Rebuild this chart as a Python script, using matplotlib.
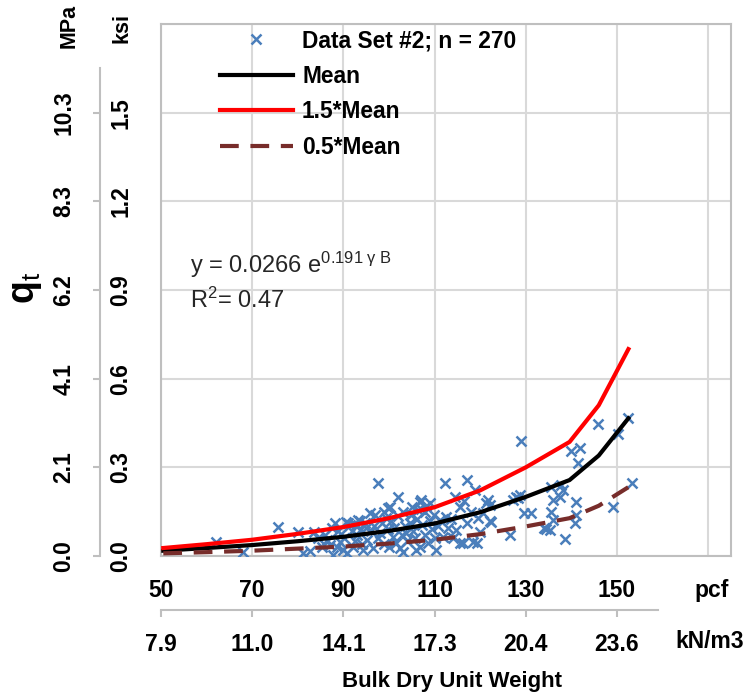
import matplotlib
matplotlib.use("Agg")
import matplotlib.pyplot as plt
from matplotlib import font_manager

# data (pcf, ksi)
gamma_pcf = [
    62.0, 68.0, 75.7, 80.1, 81.2, 82.6, 83.5, 85.9, 87.0, 87.7, 88.1, 89.2, 89.9,
    91.0, 91.4, 92.1, 93.2, 93.6, 94.3, 94.7, 95.1, 95.8, 96.5, 97.6, 98.0, 99.4,
    99.8, 100.2, 100.9, 102.0, 102.4, 103.1, 103.8, 104.5, 106.0, 106.4, 106.7,
    107.1, 107.8, 108.9, 110.4, 111.1, 111.8, 112.2, 112.6, 113.7, 114.8, 115.5,
    115.5, 116.2, 117.2, 118.4, 118.8, 119.2, 120.6, 121.3, 121.7, 122.1, 122.1,
    122.4, 126.5, 127.2, 127.9, 129.0, 129.7, 131.2, 134.1, 134.5, 135.2, 135.6,
    135.6, 136.0, 136.0, 137.4, 137.8, 138.1, 138.7, 140.0, 140.7, 141.1, 141.1,
    141.4, 141.9, 145.8, 149.2, 150.2, 152.4, 153.3,
    96.0, 96.8, 97.5, 98.5, 99.0, 99.8, 100.5, 101.0, 101.5, 102.0, 102.8, 103.5,
    104.0, 104.8, 105.2, 105.8, 106.2, 106.8, 107.3, 108.0, 108.5, 109.0, 109.5,
    110.0, 110.8, 97.0, 98.8, 100.0, 103.0, 105.0, 107.0, 108.2, 109.8,
    86.5, 88.5, 89.5, 90.2, 90.8, 91.8, 92.5, 93.0, 93.8, 94.0, 95.0, 84.5, 85.2,
    87.5, 88.8, 90.5, 92.8, 113.0, 114.0, 117.0, 119.5, 120.0, 118.0, 116.5,
    114.5, 128.3, 128.8,
]
qt_ksi = [
    0.048, 0.015, 0.099, 0.082, 0.009, 0.018, 0.080, 0.071, 0.037, 0.002, 0.110,
    0.048, 0.020, 0.110, 0.105, 0.031, 0.122, 0.118, 0.020, 0.110, 0.054, 0.144,
    0.026, 0.246, 0.077, 0.127, 0.161, 0.167, 0.065, 0.200, 0.026, 0.150, 0.077,
    0.110, 0.020, 0.156, 0.184, 0.190, 0.071, 0.178, 0.020, 0.122, 0.065, 0.246,
    0.133, 0.125, 0.088, 0.167, 0.043, 0.043, 0.256, 0.048, 0.223, 0.045, 0.144,
    0.180, 0.190, 0.172, 0.120, 0.116, 0.071, 0.190, 0.200, 0.390, 0.144, 0.144,
    0.094, 0.090, 0.088, 0.150, 0.234, 0.122, 0.190, 0.200, 0.240, 0.223, 0.056,
    0.356, 0.110, 0.184, 0.140, 0.313, 0.366, 0.446, 0.167, 0.414, 0.466, 0.248,
    0.085, 0.100, 0.060, 0.110, 0.040, 0.090, 0.120, 0.095, 0.045, 0.135, 0.070,
    0.100, 0.050, 0.140, 0.085, 0.060, 0.125, 0.030, 0.105, 0.150, 0.045, 0.120,
    0.090, 0.060, 0.100, 0.140, 0.150, 0.030, 0.015, 0.165, 0.160, 0.170, 0.140,
    0.055, 0.030, 0.075, 0.060, 0.010, 0.085, 0.050, 0.070, 0.090, 0.040, 0.095,
    0.060, 0.030, 0.095, 0.085, 0.115, 0.100, 0.095, 0.060, 0.110, 0.130, 0.080,
    0.150, 0.185, 0.200, 0.195, 0.205,
]

curve_pcf = [50.5, 60, 70, 80, 90, 100, 110, 120, 130, 139.6, 146, 152.5]
mean_ksi = [0.018, 0.027, 0.037, 0.050, 0.065, 0.085, 0.110, 0.148, 0.200, 0.257, 0.340, 0.466]
upper_ksi = [0.027, 0.040, 0.055, 0.075, 0.098, 0.128, 0.165, 0.222, 0.300, 0.386, 0.510, 0.700]
lower_ksi = [0.009, 0.013, 0.018, 0.025, 0.032, 0.042, 0.055, 0.074, 0.100, 0.128, 0.170, 0.233]

pcf_ticks = [50, 70, 90, 110, 130, 150]
kn_labels = ["7.9", "11.0", "14.1", "17.3", "20.4", "23.6"]
ksi_ticks = [0.0, 0.3, 0.6, 0.9, 1.2, 1.5]
ksi_labels = ["0.0", "0.3", "0.6", "0.9", "1.2", "1.5"]
mpa_labels = ["0.0", "2.1", "4.1", "6.2", "8.3", "10.3"]

names = {f.name for f in font_manager.fontManager.ttflist}
FONT = "Liberation Sans Narrow" if "Liberation Sans Narrow" in names else "Liberation Sans"
plt.rcParams["font.family"] = [FONT, "DejaVu Sans"]
plt.rcParams["mathtext.fontset"] = "custom"
plt.rcParams["mathtext.rm"] = FONT
plt.rcParams["mathtext.bf"] = FONT + ":bold"
plt.rcParams["mathtext.it"] = FONT + ":italic"

W, H = 749, 694
GRID = "#d9d9d9"
FRAME = "#bfbfbf"
TICK_FS = 16.5
LEG_FS = 16.4


def px(x, y):
    return x / W, 1 - y / H


fig = plt.figure(figsize=(W / 100, H / 100), dpi=100)
rect = [161 / W, (H - 556) / H, 570 / W, 532 / H]
ax = fig.add_axes(rect)

ax.plot(gamma_pcf, qt_ksi, linestyle="none", marker="x", color="#4a7ebb",
        markersize=7, markeredgewidth=1.8, label="Data Set #2; n = 270", zorder=3)
ax.plot(curve_pcf, mean_ksi, color="black", lw=3, label="Mean", zorder=4)
ax.plot(curve_pcf, upper_ksi, color="#ff0000", lw=3, label="1.5*Mean", zorder=4)
ax.plot(curve_pcf, lower_ksi, color="#772c2a", lw=3, linestyle=(0, (4.5, 2.8)),
        label="0.5*Mean", zorder=4)

ax.set_xlim(50, 175)
ax.set_ylim(0, 1.8)
ax.set_xticks([50, 70, 90, 110, 130, 150, 170])
ax.set_xticklabels([str(v) for v in pcf_ticks] + [""])
ax.set_yticks(ksi_ticks + [1.8])
ax.set_yticklabels(ksi_labels + [""], rotation=90)
ax.grid(True, color=GRID, lw=1.5, zorder=0)
ax.set_axisbelow(True)
for s in ax.spines.values():
    s.set_color(FRAME)
    s.set_linewidth(1.5)
ax.tick_params(axis="both", length=0, labelsize=TICK_FS)
ax.tick_params(axis="x", pad=24.5)
ax.tick_params(axis="y", pad=29)
for t in ax.get_xticklabels():
    t.set_fontweight("bold")
    t.set_va("center")
for t in ax.get_yticklabels():
    t.set_fontweight("bold")
    t.set_ha("center")
    t.set_va("center")

# MPa axis, further left
ax_mpa = fig.add_axes(rect, label="mpa")
ax_mpa.patch.set_visible(False)
ax_mpa.set_ylim(0, 1.8)
ax_mpa.xaxis.set_visible(False)
for k in ["top", "right", "bottom"]:
    ax_mpa.spines[k].set_visible(False)
ax_mpa.spines["left"].set_position(("outward", 61 * 0.72))
ax_mpa.spines["left"].set_bounds(0, 1.65)
ax_mpa.spines["left"].set_color(FRAME)
ax_mpa.spines["left"].set_linewidth(1.5)
ax_mpa.set_yticks(ksi_ticks)
ax_mpa.set_yticklabels(mpa_labels, rotation=90)
ax_mpa.tick_params(axis="y", direction="out", length=5, width=1.5, color=FRAME,
                   labelsize=TICK_FS, pad=21)
for t in ax_mpa.get_yticklabels():
    t.set_fontweight("bold")
    t.set_ha("center")
    t.set_va("center")

# kN/m3 axis, further down
ax_kn = fig.add_axes(rect, label="kn")
ax_kn.patch.set_visible(False)
ax_kn.set_xlim(50, 175)
ax_kn.yaxis.set_visible(False)
for k in ["top", "right", "left"]:
    ax_kn.spines[k].set_visible(False)
ax_kn.spines["bottom"].set_position(("outward", 54 * 0.72))
ax_kn.spines["bottom"].set_bounds(50, 159)
ax_kn.spines["bottom"].set_color(FRAME)
ax_kn.spines["bottom"].set_linewidth(1.5)
ax_kn.set_xticks(pcf_ticks)
ax_kn.set_xticklabels(kn_labels)
ax_kn.tick_params(axis="x", direction="out", length=5, width=1.5, color=FRAME,
                  labelsize=TICK_FS, pad=20)
for t in ax_kn.get_xticklabels():
    t.set_fontweight("bold")
    t.set_va("center")

leg = ax.legend(loc="upper left", bbox_to_anchor=((220 - 161) / 570, 0.99),
                frameon=False, borderpad=0, borderaxespad=0,
                handlelength=3.2, handletextpad=0.4, labelspacing=0.55,
                prop={"weight": "bold", "size": LEG_FS})

# unit labels and titles
fig.text(*px(712, 590), "pcf", ha="center", va="center", fontsize=TICK_FS, fontweight="bold")
fig.text(*px(710, 642), "kN/m3", ha="center", va="center", fontsize=TICK_FS, fontweight="bold")
fig.text(*px(69, 26), "MPa", rotation=90, ha="center", va="center", fontsize=15.5,
         fontweight="bold")
fig.text(*px(122, 28), "ksi", rotation=90, ha="center", va="center", fontsize=15.5,
         fontweight="bold")
fig.text(*px(452, 687), "Bulk Dry Unit Weight", ha="center", va="baseline",
         fontsize=16, fontweight="bold")
fig.text(*px(26, 288), r"$\mathbf{q}_{\mathrm{t}}$", rotation=90, ha="center", va="center",
         fontsize=27)

fig.text(*px(190, 273), r"y = 0.0266 e$^{\mathrm{0.191\ γ\ B}}$", ha="left",
         va="baseline", fontsize=17, color="#262626")
fig.text(*px(190, 308), "R$^{\mathrm{2}}$= 0.47", ha="left", va="baseline", fontsize=17,
         color="#262626")

fig.savefig("out.png", dpi=100)
